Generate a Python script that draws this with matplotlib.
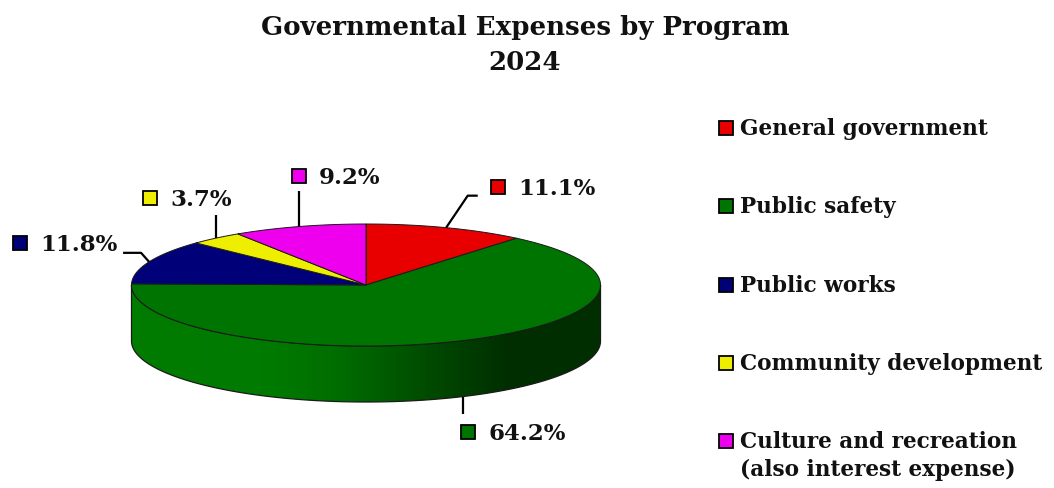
import numpy as np
import matplotlib
matplotlib.use("Agg")
import matplotlib.pyplot as plt
from matplotlib.patches import Polygon

# Expense shares by program (percent)
programs = ["General government", "Public safety", "Public works",
            "Community development", "Culture and recreation\n(also interest expense)"]
shares = [11.1, 64.2, 11.8, 3.7, 9.2]
colors = ["#E80000", "#007400", "#000078", "#EEEE00", "#EE00EE"]

# label layout: leader-line bend points and marker offset, relative to the slice edge point
leader_offsets = [
    [(21.6, -32), (31.6, -32)],
    [(0, 17)],
    [(-8, -9), (-26, -9)],
    [(0, -23)],
    [(0, -36)],
]
marker_offsets = [(52, -41), (5, 35), (-129, -19), (-66, -40), (0, -51)]

FONT = "DejaVu Serif"

W, H = 1054, 489
fig = plt.figure(figsize=(W / 100, H / 100), dpi=100)
ax = fig.add_axes([0, 0, 1, 1])
ax.set_xlim(0, W)
ax.set_ylim(H, 0)
ax.axis("off")

# pie geometry (pixels)
cx, cy = 366, 286
ra, rb = 234.5, 61
depth = 56


def pt(theta, z=0.0):
    t = np.radians(theta)
    return cx + ra * np.sin(t), cy - rb * np.cos(t) + z


def shade(base, x):
    # side-wall lighting: bright on the left, dark toward the right
    t = (x - (cx - ra)) / (2 * ra)
    f = np.interp(t, [0, 0.3, 0.45, 0.64, 0.8, 1.0], [1.07, 1.05, 0.93, 0.63, 0.4, 0.4])
    rgb = np.array(matplotlib.colors.to_rgb(base))
    return np.clip(rgb[None, :] * f[:, None], 0, 1)


bounds = np.concatenate([[0], np.cumsum(shares)]) * 3.6

# side walls (front half only: 90..270 degrees clockwise from top)
xs = np.linspace(cx - ra, cx + ra, 600)
for i, col in enumerate(colors):
    a0, a1 = max(bounds[i], 90), min(bounds[i + 1], 270)
    if a1 <= a0:
        continue
    th = np.linspace(a0, a1, 200)
    top = np.array([pt(t) for t in th])
    bot = np.array([pt(t, depth) for t in th[::-1]])
    poly = Polygon(np.vstack([top, bot]), closed=True, facecolor="none",
                   edgecolor="#1a1a1a", lw=0.9, zorder=3)
    ax.add_patch(poly)
    img = shade(col, xs)[None, :, :]
    im = ax.imshow(img, extent=(cx - ra, cx + ra, cy + rb + depth + 2, cy - rb - 2),
                   aspect="auto", zorder=2, interpolation="bilinear")
    im.set_clip_path(poly)

# top faces
for i, col in enumerate(colors):
    th = np.linspace(bounds[i], bounds[i + 1], 200)
    arc = np.array([pt(t) for t in th])
    ax.add_patch(Polygon(np.vstack([[cx, cy], arc]), closed=True, facecolor=col,
                         edgecolor="#1a1a1a", lw=0.7, zorder=4))

# data labels with leader lines
for i, col in enumerate(colors):
    mid = (bounds[i] + bounds[i + 1]) / 2
    front = 90 < mid < 270
    ax0, ay0 = pt(mid, depth if front else 0)
    path = [(ax0, ay0)] + [(ax0 + dx, ay0 + dy) for dx, dy in leader_offsets[i]]
    px, py = zip(*path)
    ax.plot(px, py, color="black", lw=1.6, zorder=5, solid_capstyle="butt")
    mx, my = ax0 + marker_offsets[i][0], ay0 + marker_offsets[i][1]
    ax.plot(mx, my, marker="s", ms=10.5, mfc=col, mec="black", mew=1.3, zorder=6)
    ax.text(mx + 20, my + 1, f"{shares[i]:.1f}%", ha="left", va="center",
            fontsize=16.5, fontweight="bold", family=FONT, color="#111111", zorder=6)

# legend
leg_y = [129, 207, 286, 364, 442]
for name, col, y in zip(programs, colors, leg_y):
    ax.plot(726, y, marker="s", ms=10.5, mfc=col, mec="black", mew=1.3)
    for k, line in enumerate(name.split("\n")):
        ax.text(740, y + 28 * k, line, ha="left", va="center", fontsize=15.6,
                fontweight="bold", family=FONT, color="#111111")

# title
ax.text(525, 28, "Governmental Expenses by Program", ha="center", va="center",
        fontsize=18.7, fontweight="bold", family=FONT, color="#111111")
ax.text(525, 62, "2024", ha="center", va="center",
        fontsize=18.7, fontweight="bold", family=FONT, color="#111111")

fig.savefig("out.png", dpi=100)
